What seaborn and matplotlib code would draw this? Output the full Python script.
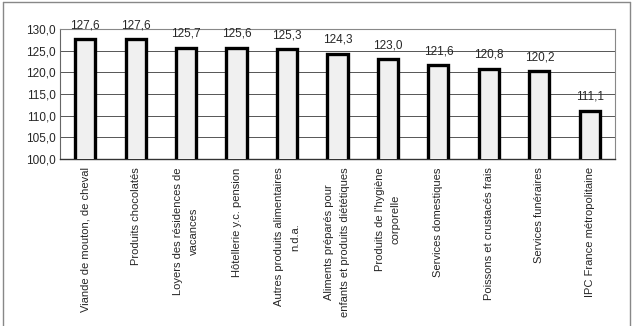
import matplotlib
matplotlib.use("Agg")
import matplotlib.pyplot as plt
import seaborn as sns
import pandas as pd
from matplotlib.lines import Line2D

categories = [
    "Viande de mouton, de cheval",
    "Produits chocolatés",
    "Loyers des résidences de\nvacances",
    "Hôtellerie y.c. pension",
    "Autres produits alimentaires\nn.d.a.",
    "Aliments préparés pour\nenfants et produits diététiques",
    "Produits de l'hygiène\ncorporelle",
    "Services domestiques",
    "Poissons et crustacés frais",
    "Services funéraires",
    "IPC France métropolitaine",
]
values = [127.6, 127.6, 125.7, 125.6, 125.3, 124.3, 123.0, 121.6, 120.8, 120.2, 111.1]
value_labels = ["127,6", "127,6", "125,7", "125,6", "125,3", "124,3", "123,0", "121,6", "120,8", "120,2", "111,1"]
yticks = [100, 105, 110, 115, 120, 125, 130]
ytick_labels = ["100,0", "105,0", "110,0", "115,0", "120,0", "125,0", "130,0"]

sns.set_style("white")
plt.rcParams["font.family"] = ["Liberation Sans", "DejaVu Sans"]

df = pd.DataFrame({"cat": categories, "val": values})

fig = plt.figure(figsize=(6.43, 3.26), dpi=100)
ax = fig.add_axes([60/643, 1-159/326, (615-60)/643, (159-29)/326])

sns.barplot(data=df, x="cat", y="val", ax=ax, color="#f0f0f0",
            edgecolor="black", linewidth=2.4, width=0.4, zorder=3)

ax.set_ylim(100, 130)
ax.set_yticks(yticks)
ax.set_yticklabels(ytick_labels, fontsize=8.5)
ax.yaxis.grid(True, color="#555555", linewidth=0.7, zorder=0)
ax.set_axisbelow(True)
ax.set_xlabel("")
ax.set_ylabel("")

ax.set_xticks(range(len(categories)))
ax.set_xticklabels(categories, rotation=90, fontsize=8, ha="center", va="top",
                   multialignment="center", linespacing=1.75)
ax.tick_params(axis="x", length=0, pad=6)
ax.tick_params(axis="y", length=0, pad=3)

# minor ticks between categories
ax.set_xticks([i - 0.5 for i in range(len(categories) + 1)], minor=True)
ax.tick_params(axis="x", which="minor", length=3, direction="out", color="#888888")

for sp in ["top", "right"]:
    ax.spines[sp].set_color("#888888")
    ax.spines[sp].set_linewidth(0.8)
ax.spines["left"].set_color("#666666")
ax.spines["bottom"].set_color("#333333")
ax.spines["left"].set_linewidth(0.8)
ax.spines["bottom"].set_linewidth(1.0)

for i, (v, lab) in enumerate(zip(values, value_labels)):
    ax.annotate(lab, (i, v), xytext=(0, 6), textcoords="offset points",
                ha="center", va="bottom", fontsize=8.5, annotation_clip=False)

# outer frame
fig.add_artist(Line2D([3/643, 3/643], [0, 1-2/326], color="#888888", lw=1, transform=fig.transFigure))
fig.add_artist(Line2D([630/643, 630/643], [0, 1-2/326], color="#888888", lw=1, transform=fig.transFigure))
fig.add_artist(Line2D([3/643, 630/643], [1-2/326, 1-2/326], color="#888888", lw=1, transform=fig.transFigure))

fig.savefig("out.png", dpi=100)
